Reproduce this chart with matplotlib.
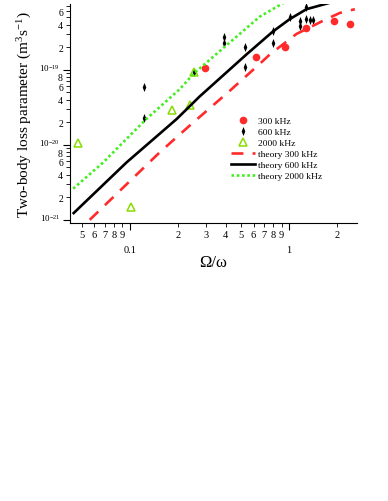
import matplotlib
matplotlib.use("Agg")
import matplotlib.pyplot as plt
import matplotlib.transforms as mtransforms
from matplotlib.ticker import FixedLocator, FuncFormatter
import numpy as np

plt.rcParams['font.family'] = ['Liberation Serif', 'DejaVu Serif']
plt.rcParams['mathtext.fontset'] = 'custom'
plt.rcParams['mathtext.rm'] = 'Liberation Serif'
plt.rcParams['mathtext.it'] = 'Liberation Serif:italic'

# measured data
x300 = [0.298, 0.62, 0.945, 1.29, 1.92, 2.44]
y300 = [1.04e-19, 1.49e-19, 1.99e-19, 3.56e-19, 4.4e-19, 4.07e-19]

x600 = [0.122, 0.122, 0.254, 0.392, 0.392, 0.531, 0.531, 0.79, 0.79,
        1.015, 1.18, 1.18, 1.29, 1.29, 1.355, 1.41]
y600 = [5.8e-20, 2.27e-20, 9.4e-20, 2.75e-19, 2.25e-19, 2.0e-19, 1.07e-19, 3.3e-19, 2.3e-19,
        5.0e-19, 3.8e-19, 4.4e-19, 6.8e-19, 4.74e-19, 4.6e-19, 4.6e-19]

x2000 = [0.0476, 0.1015, 0.1845, 0.24, 0.254]
y2000 = [1.05e-20, 1.49e-21, 2.93e-20, 3.35e-20, 9.2e-20]

# theory curves
xt300 = [0.056, 0.154, 0.238, 0.426, 0.657, 0.76, 1.118, 1.73, 2.09, 2.6]
yt300 = [1.0e-21, 7.9e-21, 1.8e-20, 5.25e-20, 1.2e-19, 1.6e-19, 3.0e-19, 4.74e-19, 5.7e-19, 6.4e-19]

xt600 = [0.0444, 0.0953, 0.197, 0.275, 0.542, 0.79, 1.01, 1.29, 1.81]
yt600 = [1.23e-21, 5.8e-21, 2.2e-20, 4.4e-20, 1.6e-19, 3.2e-19, 4.7e-19, 6.4e-19, 7.8e-19]

xt2000 = [0.0441, 0.068, 0.110, 0.127, 0.206, 0.254, 0.657, 0.92]
yt2000 = [2.6e-21, 5.8e-21, 1.62e-20, 2.2e-20, 5.5e-20, 9.0e-20, 5.1e-19, 7.7e-19]

red = '#ff2a2a'
green_pt = '#88dd00'
green_ln = '#44ee22'
thin_diamond = [(-0.4, 0), (0, 1), (0.4, 0), (0, -1), (-0.4, 0)]

fig = plt.figure(figsize=(3.88, 5.02), dpi=100)
ax = fig.add_axes([0.180, 0.554, 0.740, 0.436])

ax.plot(x300, y300, 'o', color=red, markersize=5.5, markeredgewidth=0, label='300 kHz')
ax.plot(x600, y600, marker=thin_diamond, color='black', markersize=6.5, markeredgewidth=0,
        linestyle='none', label='600 kHz')
ax.plot(x2000, y2000, '^', markerfacecolor='none', markeredgecolor=green_pt, markersize=5.5,
        markeredgewidth=1.1, linestyle='none', label='2000 kHz')
ax.plot(xt300, yt300, color=red, lw=1.9, dashes=(4.5, 3.5), label='theory 300 kHz')
ax.plot(xt600, yt600, color='black', lw=1.9, label='theory 600 kHz')
ax.plot(xt2000, yt2000, color=green_ln, lw=1.9, dashes=(1.0, 1.0), label='theory 2000 kHz')

ax.set_xscale('log')
ax.set_yscale('log')
ax.set_xlim(0.042, 2.68)
ax.set_ylim(9.1e-22, 7.5e-19)

for s in ['top', 'right']:
    ax.spines[s].set_visible(False)

# x ticks
ax.xaxis.set_major_locator(FixedLocator([0.1, 1]))
ax.xaxis.set_major_formatter(FuncFormatter(lambda v, p: '0.1' if v < 0.5 else '1'))
xminor = [m * d for d in [0.01, 0.1, 1] for m in range(2, 10)]
ax.xaxis.set_minor_locator(FixedLocator(xminor))
ax.xaxis.set_minor_formatter(FuncFormatter(lambda v, p: str(int(round(v / 10 ** np.floor(np.log10(v) + 1e-9))))))
ax.tick_params(axis='x', which='major', length=5, pad=11, labelsize=7.5)
ax.tick_params(axis='x', which='minor', length=3, pad=2, labelsize=7.5)

# y ticks
ax.yaxis.set_major_locator(FixedLocator([1e-21, 1e-20, 1e-19]))
ax.yaxis.set_major_formatter(FuncFormatter(lambda v, p: r'10$^{%d}$' % int(round(np.log10(v)))))
yminor = [m * d for d in [1e-22, 1e-21, 1e-20, 1e-19] for m in range(2, 10)]
ax.yaxis.set_minor_locator(FixedLocator(yminor))


def yminor_fmt(v, p):
    m = int(round(v / 10 ** np.floor(np.log10(v) + 1e-9)))
    return str(m) if m in (2, 4, 6, 8) else ''


ax.yaxis.set_minor_formatter(FuncFormatter(yminor_fmt))
ax.tick_params(axis='y', which='major', length=5, pad=2, labelsize=6.5)
ax.tick_params(axis='y', which='minor', length=3, pad=2, labelsize=7)

# lift the decade labels a little so they clear the "8" below them
lift = mtransforms.ScaledTranslation(0, 3 / 100, fig.dpi_scale_trans)
for lab in ax.yaxis.get_majorticklabels():
    lab.set_transform(lab.get_transform() + lift)

ax.set_xlabel('Ω/ω', fontsize=12, labelpad=0)
ax.set_ylabel('Two-body loss parameter (m$^3$s$^{-1}$)', fontsize=11, labelpad=4)

ax.legend(loc='upper left', bbox_to_anchor=(0.56, 0.485), frameon=False, fontsize=6.8,
          handlelength=2.6, handletextpad=0.35, labelspacing=0.25, borderpad=0,
          borderaxespad=0)

fig.savefig('out.png', dpi=100)
